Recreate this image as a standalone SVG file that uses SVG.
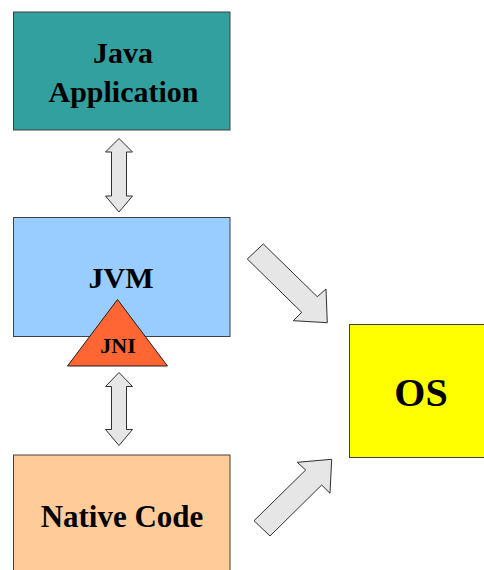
<svg xmlns="http://www.w3.org/2000/svg" width="484" height="570" viewBox="0 0 484 570">
  <style>
    .box { stroke: #404040; stroke-width: 1; }
    .lbl { font-weight: bold; fill: #000; text-anchor: middle; }
    .arrow { fill: #E6E6E6; stroke: #303030; stroke-width: 1; stroke-linejoin: miter; }
  </style>
  <rect width="484" height="570" fill="#FFFFFF"/>

  <g id="connectors">
    <!-- Java Application <-> JVM -->
    <polygon class="arrow" points="119,138.5 132.5,152 126.5,152 126.5,196 132.5,196 119,212 105.5,196 111.5,196 111.5,152 105.5,152"/>
    <!-- JNI <-> Native Code -->
    <polygon class="arrow" points="119,372.5 132.5,386.5 126.5,386.5 126.5,429.5 132.5,429.5 119,445.5 105.5,429.5 111.5,429.5 111.5,386.5 105.5,386.5"/>
    <!-- JVM -> OS -->
    <polygon class="arrow" points="247.3,259 263.3,244 317.3,296.7 326,289 327.3,322.7 293.3,320.7 301.7,312.3"/>
    <!-- Native Code -> OS -->
    <polygon class="arrow" points="254,520.7 305.7,470 297.3,462.3 331.7,459.3 330,493.3 321.7,485 270,536"/>
  </g>

  <g id="java-application">
    <rect class="box" x="13.5" y="12" width="216.5" height="118" fill="#33A0A0"/>
    <text class="lbl" font-family="Liberation Serif, Times New Roman, serif" x="123" y="63" font-size="30">Java</text>
    <text class="lbl" font-family="Liberation Serif, Times New Roman, serif" x="123.5" y="102" font-size="30">Application</text>
  </g>

  <g id="jvm">
    <rect class="box" x="13.5" y="217.5" width="216.5" height="119" fill="#99CCFF"/>
    <text class="lbl" font-family="Liberation Serif, Times New Roman, serif" x="121" y="288" font-size="30">JVM</text>
  </g>

  <g id="jni">
    <polygon points="117.5,299.5 167.5,366 67.5,366" fill="#FF6633" stroke="#202020" stroke-width="1"/>
    <text class="lbl" font-family="Liberation Serif, Times New Roman, serif" x="118" y="352.5" font-size="22">JNI</text>
  </g>

  <g id="native-code">
    <rect class="box" x="13.5" y="455" width="216.5" height="125" fill="#FFCC99"/>
    <text class="lbl" font-family="Liberation Serif, Times New Roman, serif" x="122" y="527" font-size="31">Native Code</text>
  </g>

  <g id="os">
    <rect class="box" x="349.5" y="324.5" width="140" height="133" fill="#FFFF00"/>
    <text class="lbl" font-family="Liberation Serif, Times New Roman, serif" x="421" y="405.5" font-size="40">OS</text>
  </g>
</svg>
